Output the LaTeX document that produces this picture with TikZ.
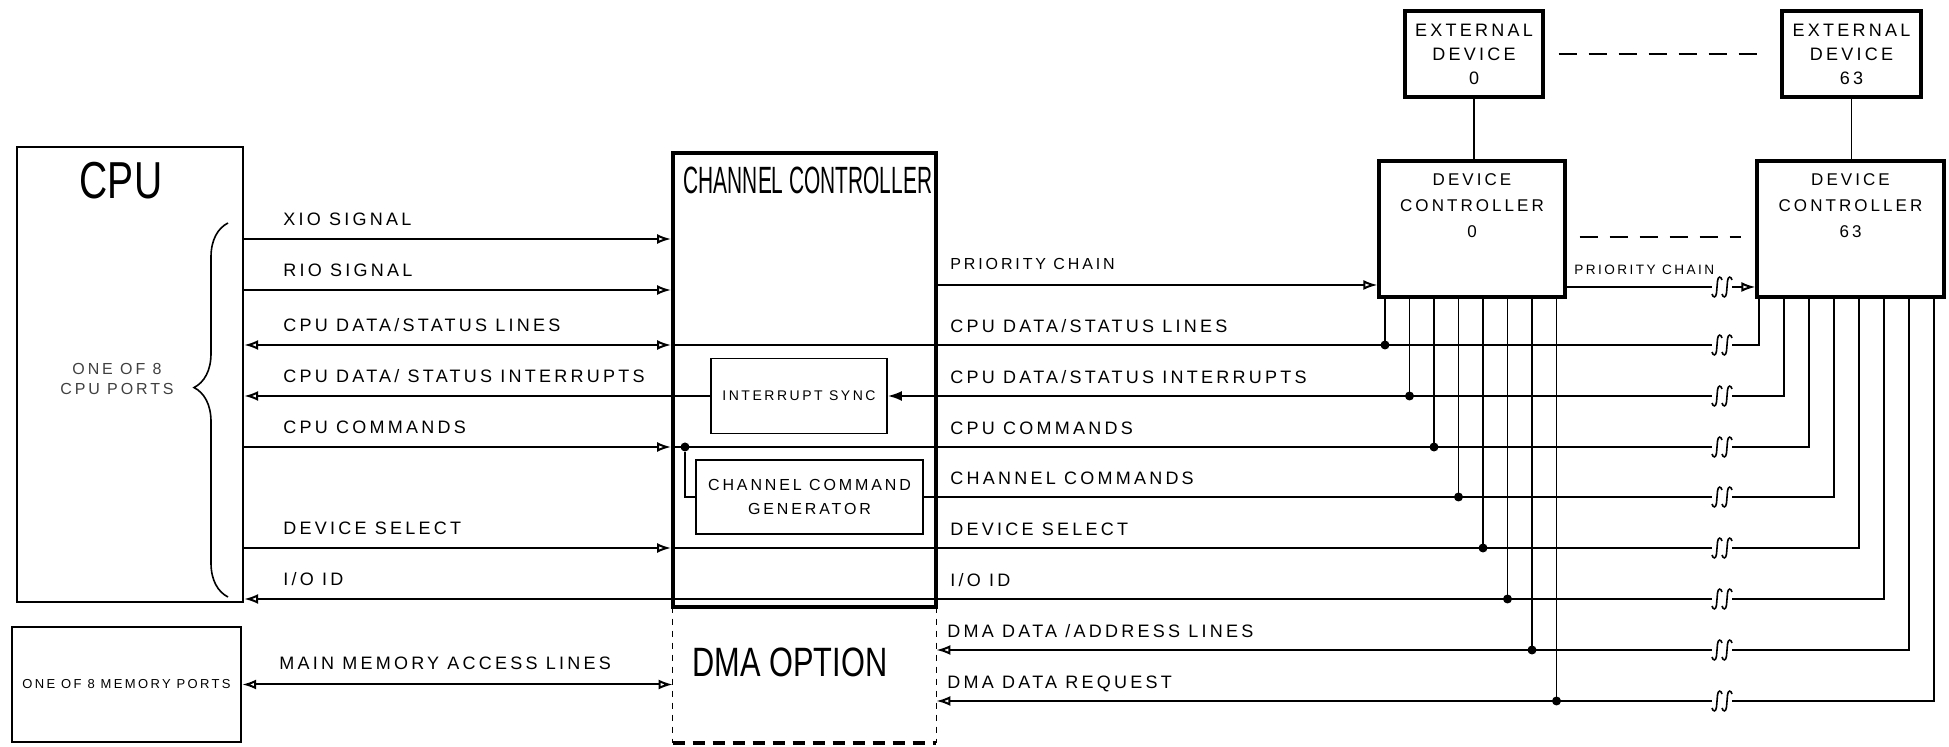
\documentclass[tikz,border=0pt]{standalone}
\usepackage{fontspec}
\setmainfont{Liberation Sans}[LetterSpace=18]
\newfontfamily\headfont{Liberation Sans}[FakeStretch=0.55]
\newfontfamily\headwide{Liberation Sans}[FakeStretch=0.75]
\usetikzlibrary{arrows.meta,decorations.pathreplacing}
\tikzset{brk/.pic={\foreach \c in {-5,5}{\draw[line width=0.8pt] (\c+5,-7) .. controls (\c+4,-11) and (\c+1,-11) .. (\c+0.5,-6)
  -- (\c-0.5,6) .. controls (\c-1,11) and (\c-4,11) .. (\c-5,7);}}}
\begin{document}
\begin{tikzpicture}[x=0.5pt,y=-0.5pt,>={Latex[open,length=7pt,width=5pt]},
 font=\fontsize{9}{11}\selectfont,
 box/.style={draw,line width=1.2pt,inner sep=0pt},
 heavy/.style={draw,line width=1.6pt,inner sep=0pt,align=center,font=\fontsize{9}{12}\selectfont},
 inner/.style={draw,line width=0.9pt,inner sep=0pt,align=center,font=\fontsize{7}{10}\selectfont},
 sig/.style={line width=1pt},
 bus/.style={line width=0.7pt},
 dot/.style={circle,fill,inner sep=0pt,minimum size=4.5pt},
 lbl/.style={anchor=base west,inner sep=0pt},
 link/.style={line width=1pt,dash pattern=on 9pt off 6pt}]
\useasboundingbox (0,0) rectangle (1949,747);
\node[box,minimum width=113pt,minimum height=227.5pt] (cpu) at (130,374.5) {};
\node[box,minimum width=114.5pt,minimum height=57.5pt,font=\fontsize{6.5}{8}\selectfont] (mem) at (126.5,684.5) {ONE OF 8 MEMORY PORTS};
\node[minimum width=131.5pt,minimum height=68pt] (dma) at (804.5,675) {};
\draw[line width=0.8pt,dashed] (dma.north west) -- (dma.south west) (dma.north east) -- (dma.south east);
\draw[line width=2pt,dash pattern=on 6pt off 4pt] (dma.south west) -- (dma.south east);
\node[heavy,line width=2pt,minimum width=131.5pt,minimum height=227pt] (cc) at (804.5,380) {};
\node[inner,minimum width=88pt,minimum height=37.5pt] (isync) at (799,396) {INTERRUPT SYNC};
\node[inner,minimum width=113.5pt,minimum height=37pt,font=\fontsize{8}{12}\selectfont] (ccg) at (809.5,497) {CHANNEL COMMAND\\GENERATOR};
\node[heavy,minimum width=69pt,minimum height=43pt] (exta) at (1474,54) {EXTERNAL\\DEVICE\\0};
\node[heavy,minimum width=69.5pt,minimum height=43pt] (extb) at (1851.5,54) {EXTERNAL\\DEVICE\\63};
\node[heavy,minimum width=93pt,minimum height=68pt] (dca) at (1472,229) {};
\node[heavy,minimum width=93.5pt,minimum height=68pt] (dcb) at (1850.5,229) {};
\node[align=center,font=\fontsize{8.5}{13}\selectfont] (dcatxt) at (1472,206) {DEVICE\\CONTROLLER\\0};
\node[align=center,font=\fontsize{8.5}{13}\selectfont] (dcbtxt) at (1850.5,206) {DEVICE\\CONTROLLER\\63};
\node[font=\fontsize{26}{26}\headwide] (cputitle) at (121,181) {CPU};
\node[font=\fontsize{19}{19}\headfont] (cctitle) at (808,180) {CHANNEL CONTROLLER};
\node[font=\fontsize{20.5}{20.5}\headwide] (dmatitle) at (790,662) {DMA OPTION};
\node[font=\fontsize{8}{10}\selectfont,align=center,text=black!75] (cpuports) at (117,379) {ONE OF 8\\CPU PORTS};
\draw[line width=0.8pt,decorate,decoration={brace,amplitude=17pt,aspect=0.56}] (228,597) -- (228,223);
\draw[sig,->] (cpu.east|-0,239) -- (cc.west|-0,239);
\draw[sig,->] (cpu.east|-0,290) -- (cc.west|-0,290);
\draw[sig,<->] (cpu.east|-0,345) -- (cc.west|-0,345);
\draw[sig,->] (isync.west) -- (cpu.east|-isync.west);
\draw[sig,->] (cpu.east|-0,447) -- (cc.west|-0,447);
\draw[sig,->] (cpu.east|-0,548) -- (cc.west|-0,548);
\draw[sig,<-] (cpu.east|-0,599) -- (cc.west|-0,599);
\draw[sig,<->] (mem.east) -- (dma.west|-mem.east);
\draw[sig] (cc.west|-0,345) -- (1712,345);
\draw[sig,-{Latex[length=7pt,width=5pt]}] (1712,396) -- (isync.east);
\draw[sig] (cc.west|-0,447) -- (1712,447);
\node[dot] (cmddot) at (685,447) {};
\draw[sig] (cmddot) |- (ccg.west);
\draw[sig] (ccg.east) -- (1712,497);
\draw[sig] (cc.west|-0,548) -- (1712,548);
\draw[sig] (cc.west|-0,599) -- (1712,599);
\draw[sig,->] (1712,650) -- (dma.east|-0,650);
\draw[sig,->] (1712,701) -- (dma.east|-0,701);
\draw[sig,->] (cc.east|-0,285) -- (dca.west|-0,285);
\draw[sig] (dca.east|-0,287) -- (1712,287);
\pic at (1722,287) {brk};
\draw[sig,->] (1732,287) -- (dcb.west|-0,287);
\foreach \y/\a/\b [count=\k] in {345/1385/1759,396/1409.5/1784,447/1434/1809,497/1458.5/1834,
  548/1483/1859,599/1507.5/1884,650/1532/1909,701/1556.5/1934}{
  \draw[bus] (\a,0|-dca.south) -- (\a,\y) node[dot] (tap\k) {};
  \pic at (1722,\y) {brk};
  \draw[bus] (1732,\y) -| (\b,0|-dcb.south);
}
\draw[line width=0.9pt] (exta.south) -- (exta.south|-dca.north);
\draw[line width=0.9pt] (extb.south) -- (extb.south|-dcb.north);
\draw[link] ([xshift=7pt]exta.east) -- ([xshift=-6pt]extb.west);
\draw[link] ([xshift=6.5pt,yshift=-4pt]dca.east) -- ([xshift=-7pt,yshift=-4pt]dcb.west);
\node[lbl] (lxio) at (283,226) {XIO SIGNAL};
\node[lbl] (lrio) at (283,277) {RIO SIGNAL};
\node[lbl] (ldsl) at (283,332) {CPU DATA/STATUS LINES};
\node[lbl] (lint) at (283,383) {CPU DATA/ STATUS INTERRUPTS};
\node[lbl] (lcmd) at (283,434) {CPU COMMANDS};
\node[lbl] (ldev) at (283,535) {DEVICE SELECT};
\node[lbl] (lio) at (283,586) {I/O ID};
\node[lbl] (lmem) at (279,670) {MAIN MEMORY ACCESS LINES};
\node[lbl,font=\fontsize{8}{10}\selectfont] (rpri) at (950,270) {PRIORITY CHAIN};
\node[lbl] (rdsl) at (950,333) {CPU DATA/STATUS LINES};
\node[lbl] (rint) at (950,384) {CPU DATA/STATUS INTERRUPTS};
\node[lbl] (rcmd) at (950,435) {CPU COMMANDS};
\node[lbl] (rchc) at (950,485) {CHANNEL COMMANDS};
\node[lbl] (rdev) at (950,536) {DEVICE SELECT};
\node[lbl] (rio) at (950,587) {I/O ID};
\node[lbl] (rdma) at (947,638) {DMA DATA /ADDRESS LINES};
\node[lbl] (rreq) at (947,689) {DMA DATA REQUEST};
\node[lbl,font=\fontsize{6.8}{9}\selectfont] (rpri2) at (1574,275) {PRIORITY CHAIN};
\end{tikzpicture}
\end{document}
